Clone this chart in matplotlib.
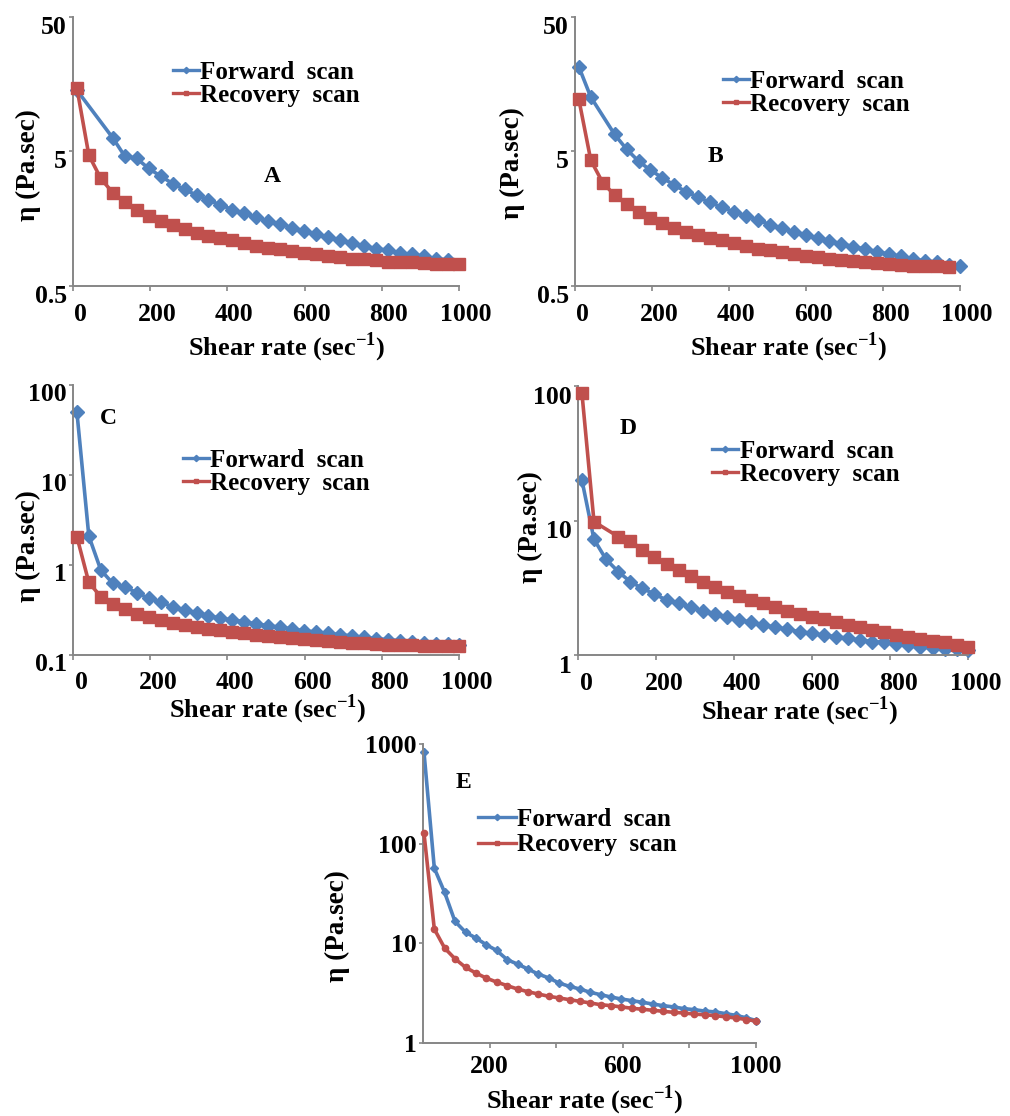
import numpy as np
import matplotlib.pyplot as plt
import matplotlib.transforms as mtransforms
from matplotlib.lines import Line2D

plt.rcParams['font.family'] = 'Liberation Serif'
plt.rcParams['font.weight'] = 'bold'
plt.rcParams['axes.labelweight'] = 'bold'
plt.rcParams['mathtext.fontset'] = 'custom'
plt.rcParams['mathtext.rm'] = 'Liberation Serif:bold'
plt.rcParams['mathtext.bf'] = 'Liberation Serif:bold'

nan = np.nan

# shear rate (sec-1) for panels A-D, and for panel E
shear_rate = [10, 41, 72, 103, 134, 165, 196, 227, 258, 289, 320, 351, 382, 413, 444, 475,
              506, 537, 568, 599, 630, 661, 692, 723, 754, 785, 816, 847, 878, 909, 940, 971, 1000]
shear_rate_e = [3, 34, 65, 96, 128, 159, 190, 221, 253, 284, 315, 346, 378, 409, 440, 471,
                503, 534, 565, 596, 628, 659, 690, 721, 753, 784, 815, 846, 878, 909, 940, 971, 1000]

# viscosity (Pa.sec), forward / recovery scan
fwd_a = [14.3, nan, nan, 6.31, 4.62, 4.44, 3.74, 3.28, 2.89, 2.61, 2.37, 2.18, 2.00, 1.85, 1.73, 1.62,
         1.52, 1.44, 1.36, 1.28, 1.21, 1.15, 1.10, 1.04, 0.99, 0.95, 0.92, 0.88, 0.86, 0.83, 0.80, 0.78, nan]
rec_a = [14.9, 4.70, 3.15, 2.47, 2.11, 1.83, 1.66, 1.53, 1.42, 1.32, 1.24, 1.18, 1.13, 1.09, 1.04, 1.00,
         0.96, 0.94, 0.91, 0.88, 0.86, 0.84, 0.82, 0.80, 0.79, 0.78, 0.76, 0.76, 0.75, 0.74, 0.73, 0.73, 0.73]

fwd_b = [21.3, 12.7, nan, 6.69, 5.20, 4.24, 3.63, 3.19, 2.81, 2.51, 2.28, 2.09, 1.92, 1.78, 1.66, 1.55,
         1.43, 1.34, 1.27, 1.20, 1.13, 1.08, 1.03, 0.98, 0.94, 0.90, 0.86, 0.83, 0.79, 0.77, 0.75, 0.72, 0.70]
rec_b = [12.2, 4.31, 2.93, 2.37, 2.03, 1.78, 1.59, 1.46, 1.36, 1.27, 1.20, 1.13, 1.09, 1.04, 0.99, 0.95,
         0.92, 0.89, 0.86, 0.84, 0.82, 0.80, 0.78, 0.77, 0.75, 0.74, 0.73, 0.72, 0.71, 0.71, 0.70, 0.69, nan]

fwd_c = [50.6, 2.10, 0.88, 0.625, 0.574, 0.493, 0.426, 0.385, 0.344, 0.316, 0.295, 0.274, 0.255, 0.245,
         0.234, 0.221, 0.212, 0.203, 0.194, 0.186, 0.180, 0.174, 0.168, 0.163, 0.157, 0.152, 0.148, 0.144,
         0.141, 0.137, 0.134, 0.131, 0.128]
rec_c = [2.07, 0.64, 0.445, 0.365, 0.321, 0.286, 0.262, 0.245, 0.229, 0.215, 0.206, 0.196, 0.188, 0.180,
         0.174, 0.168, 0.163, 0.157, 0.153, 0.149, 0.146, 0.142, 0.139, 0.137, 0.135, 0.132, 0.130, 0.129,
         0.128, 0.127, 0.126, 0.125, 0.125]

fwd_d = [20.0, 7.24, 5.14, 4.17, 3.51, 3.13, 2.84, 2.56, 2.42, 2.26, 2.14, 2.02, 1.91, 1.82, 1.75, 1.67,
         1.61, 1.55, 1.49, 1.45, 1.40, 1.37, 1.33, 1.29, 1.26, 1.24, 1.21, 1.18, 1.15, 1.13, 1.11, 1.10, 1.09]
rec_d = [89.0, 9.8, nan, 7.59, 7.08, 6.04, 5.32, 4.75, 4.29, 3.87, 3.51, 3.22, 2.96, 2.75, 2.56, 2.42,
         2.26, 2.14, 2.02, 1.93, 1.84, 1.75, 1.67, 1.61, 1.53, 1.48, 1.42, 1.37, 1.32, 1.28, 1.24, 1.19, 1.15]

fwd_e = [826, 56.8, 32.4, 16.6, 12.9, 11.3, 9.68, 8.49, 6.84, 6.19, 5.52, 4.92, 4.49, 3.99, 3.70, 3.48,
         3.22, 3.05, 2.89, 2.76, 2.66, 2.56, 2.46, 2.37, 2.30, 2.21, 2.16, 2.09, 2.05, 1.97, 1.89, 1.79, 1.68]
rec_e = [127, 13.9, 8.96, 7.00, 5.73, 5.03, 4.48, 4.09, 3.76, 3.48, 3.27, 3.10, 2.94, 2.83, 2.72, 2.62,
         2.52, 2.42, 2.37, 2.30, 2.23, 2.18, 2.13, 2.08, 2.03, 2.00, 1.95, 1.92, 1.88, 1.83, 1.78, 1.72, 1.66]

series_names = ['Forward  scan', 'Recovery  scan']
x_label = 'Shear rate (sec$^{-1}$)'
y_label = 'η (Pa.sec)'

BLUE = '#4F81BD'
RED = '#C0504D'
AXIS = '#868686'
W, H = 1010, 1116

fig = plt.figure(figsize=(W / 100, H / 100), dpi=100)

# layout in pixels: box = (left, top, right, bottom)
panels = [
    dict(letter='A', box=(73, 17, 459, 286), x=shear_rate, fwd=fwd_a, rec=rec_a,
         ylim=(0.5, 50), yticks=[0.5, 5, 50], ylabels=['0.5', '5', '50'],
         xticks=[0, 200, 400, 600, 800, 1000], xlabels=['0', '200', '400', '600', '800', '1000'],
         letter_at=(272, 177), leg_at=(173, 84), xl_at=(287, 347), yl_at=(28, 165),
         dy=8, dx=7, xpad=9, big=True, hlen=1.05, lsp=0.0),
    dict(letter='B', box=(575, 17, 960, 286), x=shear_rate, fwd=fwd_b, rec=rec_b,
         ylim=(0.5, 50), yticks=[0.5, 5, 50], ylabels=['0.5', '5', '50'],
         xticks=[0, 200, 400, 600, 800, 1000], xlabels=['0', '200', '400', '600', '800', '1000'],
         letter_at=(715, 157), leg_at=(723, 93), xl_at=(789, 347), yl_at=(512, 163),
         dy=8, dx=7, xpad=9, big=True, hlen=1.05, lsp=0.0),
    dict(letter='C', box=(73, 385, 459, 655), x=shear_rate, fwd=fwd_c, rec=rec_c,
         ylim=(0.1, 100), yticks=[0.1, 1, 10, 100], ylabels=['0.1', '1', '10', '100'],
         xticks=[0, 200, 400, 600, 800, 1000], xlabels=['0', '200', '400', '600', '800', '1000'],
         letter_at=(108, 418), leg_at=(183, 472), xl_at=(268, 709), yl_at=(28, 546),
         dy=7, dx=8, xpad=8, big=True, hlen=1.05, lsp=0.0),
    dict(letter='D', box=(578, 386, 968, 655), x=shear_rate, fwd=fwd_d, rec=rec_d,
         ylim=(1, 100), yticks=[1, 10, 100], ylabels=['1', '10', '100'],
         xticks=[0, 200, 400, 600, 800, 1000], xlabels=['0', '200', '400', '600', '800', '1000'],
         letter_at=(628, 428), leg_at=(712, 463), xl_at=(800, 711), yl_at=(530, 527),
         dy=9, dx=8, xpad=9, big=True, hlen=1.05, lsp=0.0),
    dict(letter='E', box=(423, 744, 756, 1043), x=shear_rate_e, fwd=fwd_e, rec=rec_e,
         ylim=(1, 1000), yticks=[1, 10, 100, 1000], ylabels=['1', '10', '100', '1000'],
         xticks=[200, 400, 600, 800, 1000], xlabels=['200', '', '600', '', '1000'],
         letter_at=(463, 782), leg_at=(478, 832), xl_at=(585, 1100), yl_at=(337, 926),
         dy=0, dx=0, xpad=5, big=False, hlen=1.5, lsp=0.12),
]

for p in panels:
    l, t, r, b = p['box']
    ax = fig.add_axes([l / W, 1 - b / H, (r - l) / W, (b - t) / H])
    to_ax = lambda px, py: ((px - l) / (r - l), 1 - (py - t) / (b - t))

    x = np.array(p['x'], dtype=float)
    for y, color, mk in [(p['fwd'], BLUE, 'fwd'), (p['rec'], RED, 'rec')]:
        y = np.array(y, dtype=float)
        ok = np.isfinite(y)
        if p['big']:
            marker, ms = ('D', 7) if mk == 'fwd' else ('s', 9)
        else:
            marker, ms = ('D', 4) if mk == 'fwd' else ('o', 4.5)
        ax.plot(x[ok], y[ok], color=color, lw=2.6, marker=marker, ms=ms,
                mec=color, mfc=color, clip_on=False, zorder=3 if mk == 'rec' else 2)

    ax.set_yscale('log')
    ax.set_xlim(0, 1000)
    ax.set_ylim(*p['ylim'])
    ax.set_yticks(p['yticks'], p['ylabels'])
    ax.set_xticks(p['xticks'], p['xlabels'])
    ax.minorticks_off()
    for s in ['top', 'right']:
        ax.spines[s].set_visible(False)
    for s in ['left', 'bottom']:
        ax.spines[s].set_color(AXIS)
        ax.spines[s].set_linewidth(1.4)
    ax.tick_params(axis='both', colors=AXIS, labelcolor='black', labelsize=18.5, width=1.2)
    ax.tick_params(axis='x', length=3.5, pad=p['xpad'])
    ax.tick_params(axis='y', length=3, pad=1.5)

    shift_y = mtransforms.ScaledTranslation(0, -p['dy'] / 100, fig.dpi_scale_trans)
    for lab in ax.get_yticklabels():
        lab.set_transform(lab.get_transform() + shift_y)
    shift_x = mtransforms.ScaledTranslation(p['dx'] / 100, 0, fig.dpi_scale_trans)
    for lab in ax.get_xticklabels():
        lab.set_transform(lab.get_transform() + shift_x)

    ax.set_xlabel(x_label, fontsize=19)
    ax.xaxis.set_label_coords(*to_ax(*p['xl_at']))
    ax.xaxis.label.set_va('center')
    ax.set_ylabel(y_label, fontsize=19.5)
    ax.yaxis.set_label_coords(*to_ax(*p['yl_at']))
    ax.yaxis.label.set_va('center')

    ax.text(*to_ax(*p['letter_at']), p['letter'], transform=ax.transAxes,
            ha='center', va='center', fontsize=17, fontweight='bold')

    handles = [Line2D([], [], color=BLUE, lw=2.4, marker='D', ms=3.2),
               Line2D([], [], color=RED, lw=2.4, marker='s', ms=3.2)]
    ax.legend(handles, series_names, loc='center left', bbox_to_anchor=to_ax(*p['leg_at']),
              frameon=False, fontsize=18, borderpad=0, borderaxespad=0,
              handlelength=p['hlen'], handletextpad=0.05, labelspacing=p['lsp'])

fig.savefig('out.png', dpi=100)
